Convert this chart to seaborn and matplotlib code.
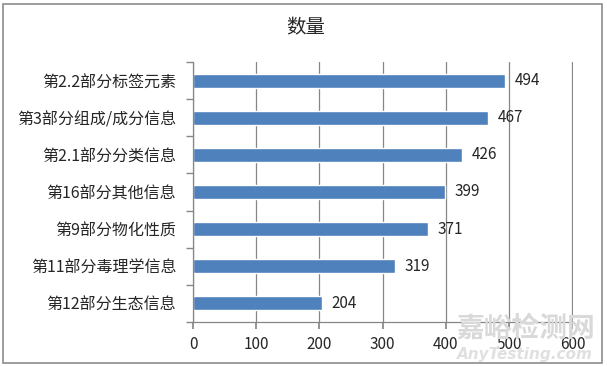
import pandas as pd
import seaborn as sns
import matplotlib
matplotlib.use("Agg")
import matplotlib.pyplot as plt
from matplotlib.patches import Rectangle

categorias = ["第2.2部分标签元素", "第3部分组成/成分信息", "第2.1部分分类信息",
              "第16部分其他信息", "第9部分物化性质", "第11部分毒理学信息", "第12部分生态信息"]
cantidades = [494, 467, 426, 399, 371, 319, 204]
ticks_x = [0, 100, 200, 300, 400, 500, 600]

df = pd.DataFrame({"categoria": categorias, "cantidad": cantidades})

sns.set_theme(style="white")
plt.rcParams['font.family'] = ['Noto Sans CJK SC', 'DejaVu Sans']

fig = plt.figure(figsize=(6.07, 3.67), dpi=100)
ax = fig.add_axes([0.318, 0.1234, 0.626, 0.707])

sns.barplot(data=df, y="categoria", x="cantidad", orient="h", color="#4F81BD",
            saturation=1, width=0.39, ax=ax)

# Rejilla vertical y ejes
ax.set_xlim(0, 601)
ax.set_xticks(ticks_x)
ax.set_xticklabels([str(t) for t in ticks_x], fontsize=11)
ax.xaxis.grid(True, color="#868686", linewidth=0.9)
ax.set_axisbelow(True)
ax.set_ylim(len(categorias) - 0.5, -0.5)
for s in ["top", "right"]:
    ax.spines[s].set_visible(False)
for s in ["left", "bottom"]:
    ax.spines[s].set_color("#868686")
    ax.spines[s].set_linewidth(0.9)
ax.tick_params(axis="x", length=5, color="#868686", direction="out", pad=5, bottom=True)
ax.tick_params(axis="y", length=0, labelsize=11.5, pad=12)
ax.set_yticks(range(len(categorias)))
ax.set_yticklabels(categorias)
ax.set_yticks([i - 0.5 for i in range(len(categorias) + 1)], minor=True)
ax.tick_params(axis="y", which="minor", length=5, color="#868686", left=True)
ax.set_xlabel("")
ax.set_ylabel("")

# Etiquetas de valor
for cont in ax.containers:
    ax.bar_label(cont, labels=[str(v) for v in cantidades], padding=7, fontsize=11)

fig.text(0.503, 0.923, "数量", ha="center", va="center", fontsize=14)

# Marco exterior
fig.patches.append(Rectangle((0.005, 0.012), 0.987, 0.978, transform=fig.transFigure,
                             fill=False, edgecolor="#8c8c8c", linewidth=1.2))

# Marca de agua
fig.text(0.865, 0.105, "嘉峪检测网", ha="center", va="center", fontsize=20,
         color="#d9d9d9", fontweight="bold", zorder=0)
fig.text(0.865, 0.035, "AnyTesting.com", ha="center", va="center", fontsize=11,
         color="#e0e0e0", style="italic", fontweight="bold", family=["DejaVu Sans"], zorder=0)

plt.savefig("out.png", dpi=100)
plt.close()
